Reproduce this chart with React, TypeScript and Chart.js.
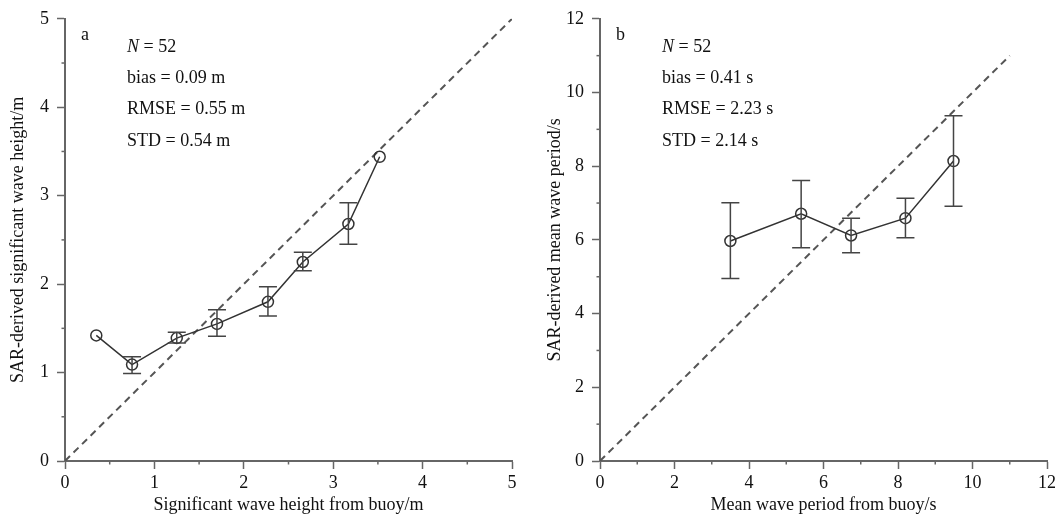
import React, { useEffect, useRef } from "react";
import { Chart, registerables } from "chart.js";

Chart.register(...registerables);

const FONT = '"Liberation Serif", "Times New Roman", Times, serif';

// ---------- Panel a: significant wave height ----------
const HS_BUOY = [0.35, 0.75, 1.25, 1.7, 2.27, 2.66, 3.17, 3.52];
const HS_SAR = [1.42, 1.09, 1.39, 1.55, 1.8, 2.25, 2.68, 3.44];
const HS_LOW: (number | null)[] = [null, 0.99, 1.335, 1.41, 1.64, 2.15, 2.45, null];
const HS_HIGH: (number | null)[] = [null, 1.18, 1.455, 1.71, 1.97, 2.36, 2.92, null];
const HS_DIAG = [0, 5];
const HS_N = 52;
const HS_STATS = ["bias = 0.09 m", "RMSE = 0.55 m", "STD = 0.54 m"];

// ---------- Panel b: mean wave period ----------
const TM_BUOY = [3.5, 5.4, 6.74, 8.2, 9.49];
const TM_SAR = [5.97, 6.71, 6.12, 6.59, 8.14];
const TM_LOW: (number | null)[] = [4.95, 5.79, 5.65, 6.06, 6.91];
const TM_HIGH: (number | null)[] = [7.01, 7.61, 6.59, 7.13, 9.37];
const TM_DIAG = [0, 11];
const TM_N = 52;
const TM_STATS = ["bias = 0.41 s", "RMSE = 2.23 s", "STD = 2.14 s"];

type PanelCfg = {
  letter: string;
  xs: number[];
  ys: number[];
  low: (number | null)[];
  high: (number | null)[];
  diag: number[];
  n: number;
  stats: string[];
  max: number;
  minorStep: number;
  majorStep: number;
  xTitle: string;
  yTitle: string;
  width: number;
  yAxisWidth: number;
  yTitlePad: number;
  padRight: number;
};

const PANELS: PanelCfg[] = [
  {
    letter: "a",
    xs: HS_BUOY,
    ys: HS_SAR,
    low: HS_LOW,
    high: HS_HIGH,
    diag: HS_DIAG,
    n: HS_N,
    stats: HS_STATS,
    max: 5,
    minorStep: 0.5,
    majorStep: 1,
    xTitle: "Significant wave height from buoy/m",
    yTitle: "SAR-derived significant wave height/m",
    width: 530,
    yAxisWidth: 65,
    yTitlePad: 7,
    padRight: 18,
  },
  {
    letter: "b",
    xs: TM_BUOY,
    ys: TM_SAR,
    low: TM_LOW,
    high: TM_HIGH,
    diag: TM_DIAG,
    n: TM_N,
    stats: TM_STATS,
    max: 12,
    minorStep: 1,
    majorStep: 2,
    xTitle: "Mean wave period from buoy/s",
    yTitle: "SAR-derived mean wave period/s",
    width: 531,
    yAxisWidth: 70,
    yTitlePad: 14,
    padRight: 14,
  },
];

const AXIS_COLOR = "#666";
const TEXT_COLOR = "#111";

function isMajor(v: number, step: number) {
  const r = v / step;
  return Math.abs(r - Math.round(r)) < 1e-6;
}

function Panel({ cfg }: { cfg: PanelCfg }) {
  const ref = useRef<HTMLCanvasElement | null>(null);

  useEffect(() => {
    if (!ref.current) return;

    const errorBars = {
      id: "errorBars",
      afterDatasetsDraw(chart: any) {
        const { ctx, scales } = chart;
        const xs = scales.x;
        const ys = scales.y;
        ctx.save();
        ctx.strokeStyle = "#444";
        ctx.lineWidth = 1.5;
        cfg.xs.forEach((xv, i) => {
          const lo = cfg.low[i];
          const hi = cfg.high[i];
          if (lo == null || hi == null) return;
          const px = xs.getPixelForValue(xv);
          const pl = ys.getPixelForValue(lo);
          const ph = ys.getPixelForValue(hi);
          const cap = 9;
          ctx.beginPath();
          ctx.moveTo(px, pl);
          ctx.lineTo(px, ph);
          ctx.moveTo(px - cap, pl);
          ctx.lineTo(px + cap, pl);
          ctx.moveTo(px - cap, ph);
          ctx.lineTo(px + cap, ph);
          ctx.stroke();
        });
        ctx.restore();
      },
    };

    const minorTicks = {
      id: "minorTicks",
      afterDraw(chart: any) {
        const { ctx, scales, chartArea } = chart;
        ctx.save();
        ctx.strokeStyle = AXIS_COLOR;
        ctx.lineWidth = 1.5;
        const len = 3.5;
        scales.x.ticks.forEach((t: any) => {
          if (isMajor(t.value, cfg.majorStep)) return;
          const p = scales.x.getPixelForValue(t.value);
          ctx.beginPath();
          ctx.moveTo(p, chartArea.bottom);
          ctx.lineTo(p, chartArea.bottom + len);
          ctx.stroke();
        });
        scales.y.ticks.forEach((t: any) => {
          if (isMajor(t.value, cfg.majorStep)) return;
          const p = scales.y.getPixelForValue(t.value);
          ctx.beginPath();
          ctx.moveTo(chartArea.left, p);
          ctx.lineTo(chartArea.left - len, p);
          ctx.stroke();
        });
        ctx.restore();
      },
    };

    const annotations = {
      id: "annotations",
      afterDraw(chart: any) {
        const { ctx, chartArea } = chart;
        ctx.save();
        ctx.fillStyle = TEXT_COLOR;
        ctx.textBaseline = "alphabetic";
        ctx.textAlign = "left";
        ctx.font = `18px ${FONT}`;
        ctx.fillText(cfg.letter, chartArea.left + 16, chartArea.top + 21);
        const tx = chartArea.left + 62;
        let by = chartArea.top + 33;
        ctx.font = `italic 18px ${FONT}`;
        ctx.fillText("N", tx, by);
        const nw = ctx.measureText("N").width;
        ctx.font = `18px ${FONT}`;
        ctx.fillText(` = ${cfg.n}`, tx + nw, by);
        cfg.stats.forEach((s) => {
          by += 31.3;
          ctx.fillText(s, tx, by);
        });
        ctx.restore();
      },
    };

    const tickFont = { family: FONT, size: 18 };
    const titleFont = { family: FONT, size: 18 };

    const chart = new Chart(ref.current, {
      type: "scatter",
      data: {
        datasets: [
          {
            data: cfg.xs.map((x, i) => ({ x, y: cfg.ys[i] })),
            showLine: true,
            borderColor: "#333",
            borderWidth: 1.5,
            pointRadius: 5.5,
            pointBorderWidth: 1.5,
            pointBorderColor: "#333",
            pointBackgroundColor: "rgba(0,0,0,0)",
            order: 1,
          },
          {
            data: cfg.diag.map((v) => ({ x: v, y: v })),
            showLine: true,
            borderColor: "#555",
            borderWidth: 2,
            borderDash: [7, 5],
            pointRadius: 0,
            order: 2,
          },
        ],
      },
      options: {
        responsive: false,
        animation: false,
        devicePixelRatio: 1,
        layout: { padding: { left: 0, right: cfg.padRight, top: 15, bottom: 0 } },
        plugins: {
          legend: { display: false },
          tooltip: { enabled: false },
        },
        scales: {
          x: {
            type: "linear",
            min: 0,
            max: cfg.max,
            ticks: {
              stepSize: cfg.minorStep,
              autoSkip: false,
              maxRotation: 0,
              padding: 3,
              color: TEXT_COLOR,
              font: tickFont,
              callback: (v: any) => (isMajor(Number(v), cfg.majorStep) ? String(Number(v)) : ""),
            },
            grid: {
              drawOnChartArea: false,
              drawTicks: true,
              tickLength: 8,
              tickWidth: 1.5,
              tickColor: (ctx: any) =>
                ctx.tick && isMajor(ctx.tick.value, cfg.majorStep) ? AXIS_COLOR : "rgba(0,0,0,0)",
            },
            border: { display: true, color: AXIS_COLOR, width: 2 },
            title: {
              display: true,
              text: cfg.xTitle,
              color: TEXT_COLOR,
              font: titleFont,
              padding: { top: 0, bottom: 9 },
            },
            afterFit: (s: any) => {
              s.height = 64;
            },
          },
          y: {
            type: "linear",
            min: 0,
            max: cfg.max,
            ticks: {
              stepSize: cfg.minorStep,
              autoSkip: false,
              padding: 8,
              color: TEXT_COLOR,
              font: tickFont,
              callback: (v: any) => (isMajor(Number(v), cfg.majorStep) ? String(Number(v)) : ""),
            },
            grid: {
              drawOnChartArea: false,
              drawTicks: true,
              tickLength: 8,
              tickWidth: 1.5,
              tickColor: (ctx: any) =>
                ctx.tick && isMajor(ctx.tick.value, cfg.majorStep) ? AXIS_COLOR : "rgba(0,0,0,0)",
            },
            border: { display: true, color: AXIS_COLOR, width: 2 },
            title: {
              display: true,
              text: cfg.yTitle,
              color: TEXT_COLOR,
              font: titleFont,
              padding: { top: cfg.yTitlePad, bottom: 0 },
            },
            afterFit: (s: any) => {
              s.width = cfg.yAxisWidth;
            },
          },
        },
      },
      plugins: [errorBars, minorTicks, annotations],
    } as any);

    return () => chart.destroy();
  }, [cfg]);

  return (
    <canvas
      ref={ref}
      width={cfg.width}
      height={525}
      style={{ display: "block", width: cfg.width, height: 525 }}
    />
  );
}

export default function App() {
  return (
    <div
      style={{
        position: "absolute",
        left: 0,
        top: 0,
        width: 1061,
        height: 525,
        display: "flex",
        background: "#fff",
      }}
    >
      {PANELS.map((p) => (
        <Panel key={p.letter} cfg={p} />
      ))}
    </div>
  );
}
